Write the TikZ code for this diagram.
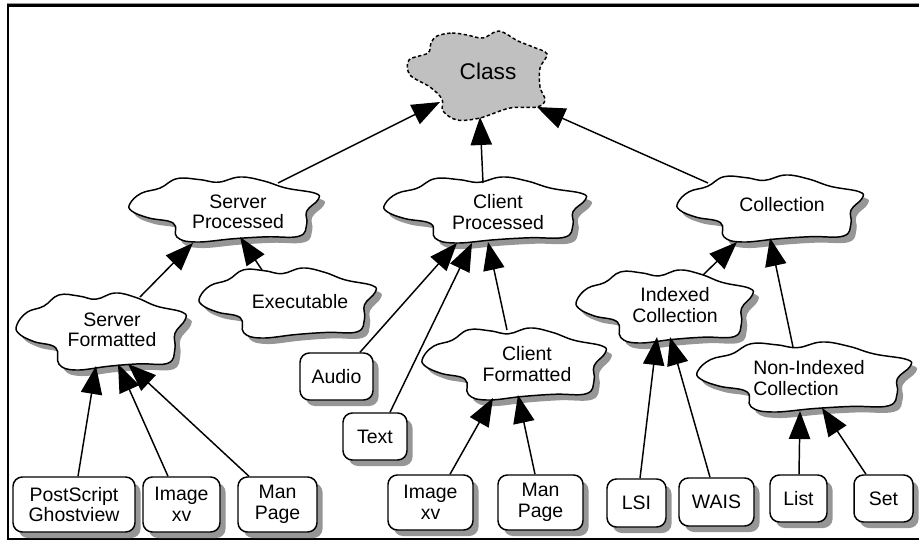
\documentclass[tikz,border=0pt]{standalone}
\usepackage{fontspec}
\setmainfont{Liberation Sans}
\usetikzlibrary{calc,shadows,arrows.meta}
\definecolor{shadowc}{RGB}{150,150,150}
\definecolor{classfill}{RGB}{192,192,192}
\def\pxu{0.75pt}
\tikzset{
  cloudline/.style={line width=1.1pt,line join=round},
  arr/.style={line width=1.1pt,-{Triangle[length=21pt 0 0,width=16pt 0 0]}},
  lbl/.style={inner sep=0pt,align=center,font=\fontsize{14.6}{15.2}\selectfont},
  boxnode/.style={draw,line width=1.1pt,rounded corners=7pt,fill=white,inner sep=0pt,
    align=center,font=\fontsize{14.6}{15.6}\selectfont,
    drop shadow={shadow xshift=4.2pt,shadow yshift=-4.5pt,fill=shadowc,opacity=1}},
}
\newcommand\wcloud[4]{%
  \fill[shadowc,shift={(#1+5.5,#2+6)},xscale=#3,yscale=#4]
    plot[smooth cycle,tension=0.7] coordinates {(-1.00,-0.18) (-0.88,-0.50) (-0.68,-0.66) (-0.50,-0.95) (-0.26,-0.92) (-0.06,-0.84) (0.17,-1.00) (0.42,-0.88) (0.66,-0.66) (0.97,-0.50) (1.00,-0.30) (0.88,0.05) (0.88,0.45) (0.80,0.82) (0.45,0.84) (0.10,0.90) (-0.30,1.00) (-0.50,0.85) (-0.54,0.42) (-0.80,0.26) (-0.98,0.05)};
  \draw[cloudline,fill=white,shift={(#1,#2)},xscale=#3,yscale=#4]
    plot[smooth cycle,tension=0.7] coordinates {(-1.00,-0.18) (-0.88,-0.50) (-0.68,-0.66) (-0.50,-0.95) (-0.26,-0.92) (-0.06,-0.84) (0.17,-1.00) (0.42,-0.88) (0.66,-0.66) (0.97,-0.50) (1.00,-0.30) (0.88,0.05) (0.88,0.45) (0.80,0.82) (0.45,0.84) (0.10,0.90) (-0.30,1.00) (-0.50,0.85) (-0.54,0.42) (-0.80,0.26) (-0.98,0.05)};
}
\begin{document}
\begin{tikzpicture}[x=0.75pt,y=-0.75pt]
\useasboundingbox (0,0) rectangle (919,543);
% frame
\draw[shadowc,line width=0.75pt] (7,3.6) -- (919,3.6);
\draw[line width=1.9pt] (7,5.4) -- (919,5.4);
\draw[line width=1.6pt] (8.3,4.5) -- (8.3,539.5);
\draw[line width=1.3pt] (7.5,539) -- (919,539);
% class cloud
\draw[line width=1.1pt,dash pattern=on 2.6pt off 1.8pt,fill=classfill]
  plot[smooth cycle,tension=0.55] coordinates {(437,36) (452,33) (467,35) (483,38) (499,31) (518,41) (533,47) (547,54) (540,68) (540,87) (545,100) (537,107) (510,108) (480,118) (457,120) (443,111) (442,99) (430,87) (410,75) (409,60) (428,53) (431,43)};
\node[inner sep=0pt,font=\fontsize{17}{18}\selectfont] (cls) at (488,71) {Class};
% white clouds
\wcloud{224}{209.5}{94}{32.5}
\wcloud{287.5}{303}{87.5}{35}
\wcloud{101}{331.5}{84}{38.5}
\wcloud{485}{210}{100}{33}
\wcloud{514}{364}{91}{36}
\wcloud{770}{208.5}{92}{33.5}
\wcloud{664.5}{306.5}{87.5}{36.5}
\wcloud{804}{377}{106}{35}
\node[lbl] (sp) at (238,212) {Server\\Processed};
\node[lbl] (ex) at (300,302) {Executable};
\node[lbl] (sf) at (112,330) {Server\\Formatted};
\node[lbl] (cp) at (498,212) {Client\\Processed};
\node[lbl] (cf) at (527,364) {Client\\Formatted};
\node[lbl] (col) at (782,205) {Collection};
\node[lbl] (ic) at (675,305) {Indexed\\Collection};
\node[lbl,align=left] (nic) at (809,378) {Non-Indexed\\Collection};
% boxes
\node[boxnode,minimum width=122*\pxu,minimum height=55*\pxu] (ps) at (74,504.5) {PostScript\\Ghostview};
\node[boxnode,minimum width=77*\pxu,minimum height=55*\pxu] (ixl) at (181.5,504.5) {Image\\xv};
\node[boxnode,minimum width=79*\pxu,minimum height=55*\pxu] (mpl) at (277.5,504.5) {Man\\Page};
\node[boxnode,minimum width=73*\pxu,minimum height=47*\pxu] (au) at (336.5,376.5) {Audio};
\node[boxnode,minimum width=64*\pxu,minimum height=47*\pxu] (tx) at (375,436.5) {Text};
\node[boxnode,minimum width=85*\pxu,minimum height=55*\pxu] (ixm) at (430.5,502.5) {Image\\xv};
\node[boxnode,minimum width=85*\pxu,minimum height=55*\pxu] (mpm) at (540.5,502.5) {Man\\Page};
\node[boxnode,minimum width=59*\pxu,minimum height=48*\pxu] (lsi) at (636.5,503) {LSI};
\node[boxnode,minimum width=75*\pxu,minimum height=48*\pxu] (wais) at (716.5,502) {WAIS};
\node[boxnode,minimum width=57*\pxu,minimum height=47*\pxu] (list) at (798.5,498.5) {List};
\node[boxnode,minimum width=59*\pxu,minimum height=47*\pxu] (set) at (883.5,498.5) {Set};
% connectors
\draw[arr] ($(sp)+(40,-29)$) -- ($(cls)+(-48,31)$);
\draw[arr] ($(cp)+(-15,-29)$) -- ($(cls)+(-8,46)$);
\draw[arr] ($(col)+(-74,-22)$) -- ($(cls)+(49,36)$);
\draw[arr] ($(sf)+(28,-33)$) -- ($(sp)+(-45,31)$);
\draw[arr] ($(ex)+(-38,-32)$) -- ($(sp)+(2,25)$);
\draw[arr] ($(ps.north)+(4,0)$) -- ($(sf)+(-16,36)$);
\draw[arr] ($(ixl.north)+(-13.5,0)$) -- ($(sf)+(6,34)$);
\draw[arr] ($(mpl.north)+(-28.5,0)$) -- ($(sf)+(16,34)$);
\draw[arr] ($(au.north)+(23.5,0)$) -- ($(cp)+(-41,31)$);
\draw[arr] ($(tx.north)+(15,0)$) -- ($(cp)+(-26,31)$);
\draw[arr] ($(cf)+(-20,-34)$) -- ($(cp)+(-10,30)$);
\draw[arr] ($(ixm.north)+(19.5,0)$) -- ($(cf)+(-34,34)$);
\draw[arr] ($(mpm.north)+(-5.5,0)$) -- ($(cf)+(-9,31)$);
\draw[arr] ($(ic)+(28,-30)$) -- ($(col)+(-45,37)$);
\draw[arr] ($(nic)+(-16,-31)$) -- ($(col)+(-12,33)$);
\draw[arr] ($(lsi.north)+(3.5,0)$) -- ($(ic)+(-18,32)$);
\draw[arr] ($(wais.north)+(-6.5,0)$) -- ($(ic)+(-5,32)$);
\draw[arr] ($(list.north)+(0.5,0)$) -- ($(nic)+(-9,33)$);
\draw[arr] ($(set.north)+(-17.5,0)$) -- ($(nic)+(13,30)$);
\end{tikzpicture}
\end{document}
